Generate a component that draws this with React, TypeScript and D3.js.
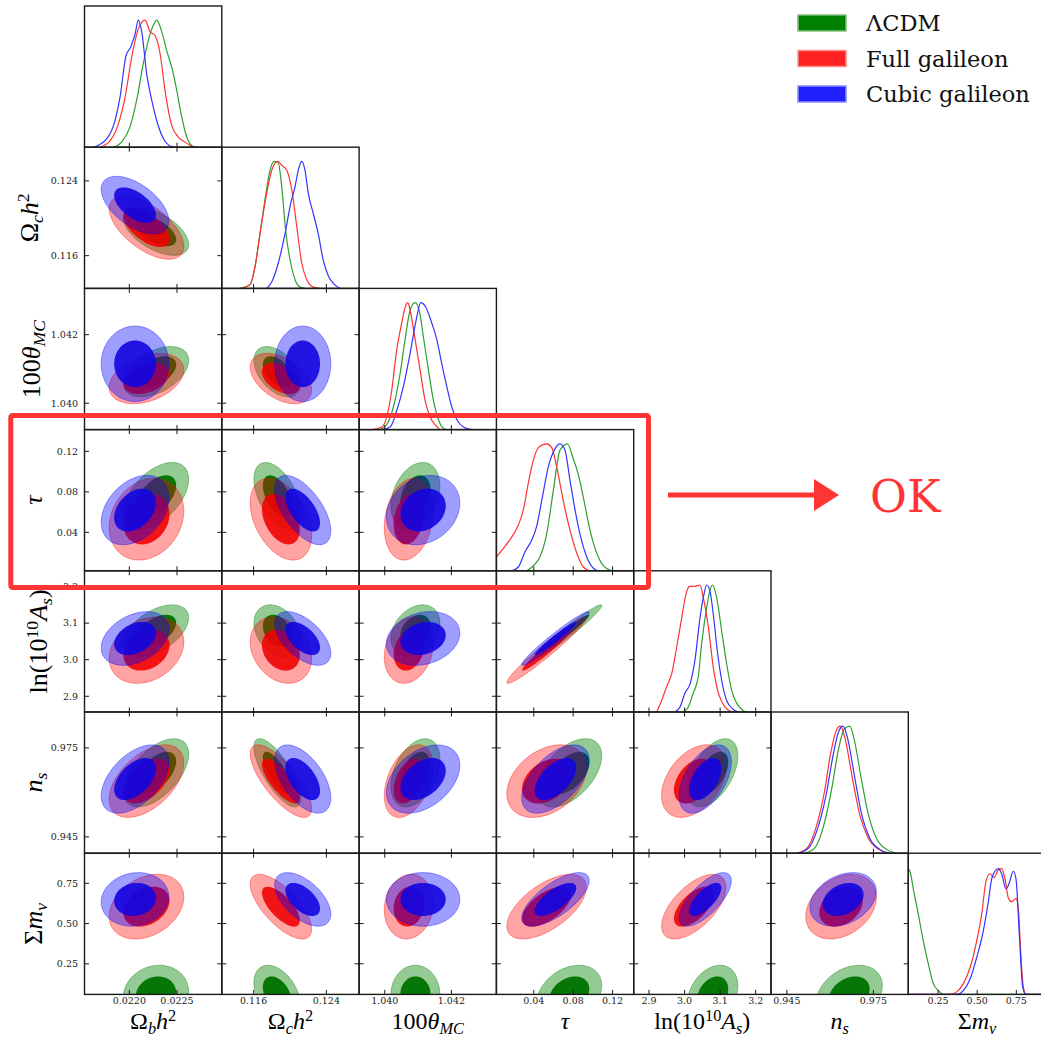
import React from "react";
import * as d3 from "d3";

// ---- parameters, axis ranges and ticks ----
const paramNames = ["ombh2", "omch2", "theta", "tau", "logA", "ns", "mnu"];
const paramRanges: [number, number][] = [
  [0.02153, 0.02297],
  [0.1125, 0.1276],
  [1.03923, 1.04335],
  [0.002, 0.1415],
  [2.857, 3.243],
  [0.9395, 0.9871],
  [0.06, 0.937],
];
const tickValues: number[][] = [
  [0.022, 0.0225],
  [0.116, 0.124],
  [1.04, 1.042],
  [0.04, 0.08, 0.12],
  [2.9, 3.0, 3.1, 3.2],
  [0.945, 0.975],
  [0.25, 0.5, 0.75],
];
const tickLabels: string[][] = [
  ["0.0220", "0.0225"],
  ["0.116", "0.124"],
  ["1.040", "1.042"],
  ["0.04", "0.08", "0.12"],
  ["2.9", "3.0", "3.1", "3.2"],
  ["0.945", "0.975"],
  ["0.25", "0.50", "0.75"],
];

type Seg = { t: string; it?: boolean; pos?: "sub" | "sup" };
const axisLabels: Seg[][] = [
  [{ t: "Ω" }, { t: "b", it: true, pos: "sub" }, { t: "h", it: true }, { t: "2", pos: "sup" }],
  [{ t: "Ω" }, { t: "c", it: true, pos: "sub" }, { t: "h", it: true }, { t: "2", pos: "sup" }],
  [{ t: "100" }, { t: "θ", it: true }, { t: "MC", it: true, pos: "sub" }],
  [{ t: "τ", it: true }],
  [{ t: "ln(10" }, { t: "10", pos: "sup" }, { t: "A", it: true }, { t: "s", it: true, pos: "sub" }, { t: ")" }],
  [{ t: "n", it: true }, { t: "s", it: true, pos: "sub" }],
  [{ t: "Σ" }, { t: "m", it: true }, { t: "ν", it: true, pos: "sub" }],
];

// ---- models ----
const modelNames = ["ΛCDM", "Full galileon", "Cubic galileon"];

// posterior means and standard deviations, in parameter order
const lcdmMean = [0.02228, 0.1186, 1.04092, 0.076, 3.079, 0.9666, 0.06];
const lcdmSd = [0.00014, 0.00105, 0.0003, 0.0135, 0.029, 0.0047, 0.074];
const fullMean = [0.02218, 0.119, 1.04072, 0.053, 3.026, 0.9638, 0.605];
const fullSd = [0.00016, 0.00138, 0.0003, 0.0165, 0.037, 0.005, 0.082];
const cubicMean = [0.02206, 0.1214, 1.04115, 0.062, 3.058, 0.9645, 0.65];
const cubicSd = [0.000145, 0.00126, 0.00045, 0.014, 0.03, 0.0047, 0.068];

// correlation coefficients for each (row, column) pair
const pairOrder: [number, number][] = [
  [1, 0], [2, 0], [2, 1], [3, 0], [3, 1], [3, 2], [4, 0], [4, 1], [4, 2], [4, 3],
  [5, 0], [5, 1], [5, 2], [5, 3], [5, 4], [6, 0], [6, 1], [6, 2], [6, 3], [6, 4], [6, 5],
];
const lcdmCorr = [-0.55, 0.45, -0.45, 0.5, -0.5, 0.3, 0.5, -0.3, 0.3, 0.97, 0.55, -0.75, 0.4, 0.5, 0.5, 0.1, -0.4, 0.0, 0.3, 0.3, 0.3];
const fullCorr = [-0.6, 0.35, -0.45, 0.2, -0.4, 0.2, 0.25, -0.25, 0.2, 0.97, 0.5, -0.75, 0.4, 0.35, 0.4, 0.3, -0.7, 0.1, 0.6, 0.6, 0.3];
const cubicCorr = [-0.55, 0.0, 0.0, 0.35, -0.6, 0.2, 0.35, -0.55, 0.2, 0.97, 0.5, -0.55, 0.4, 0.55, 0.5, 0.1, -0.55, 0.0, 0.7, 0.7, 0.3];

// ---- 1D marginal densities: [value, relative height] ----
type Pt = [number, number];
const ombh2Lcdm: Pt[] = [[0.021832, 0], [0.02192, 0.04], [0.022007, 0.16], [0.022077, 0.37], [0.022147, 0.66], [0.022199, 0.84], [0.022252, 0.96], [0.022287, 1.0], [0.02234, 0.91], [0.022392, 0.76], [0.022445, 0.63], [0.022497, 0.45], [0.022549, 0.24], [0.022602, 0.08], [0.022671, 0.005], [0.022707, 0]];
const ombh2Full: Pt[] = [[0.021693, 0], [0.021797, 0.05], [0.021884, 0.18], [0.021955, 0.39], [0.022025, 0.71], [0.022094, 0.93], [0.022165, 1.0], [0.022217, 0.91], [0.022269, 0.88], [0.022322, 0.74], [0.022374, 0.45], [0.022445, 0.17], [0.022514, 0.08], [0.022584, 0.04], [0.022671, 0]];
const ombh2Cubic: Pt[] = [[0.021622, 0], [0.021763, 0.066], [0.02185, 0.21], [0.021902, 0.39], [0.021965, 0.72], [0.022015, 0.79], [0.02206, 0.89], [0.022094, 1.0], [0.02213, 0.91], [0.022182, 0.58], [0.022235, 0.37], [0.022287, 0.21], [0.022356, 0.07], [0.022427, 0.01], [0.022479, 0]];

const omch2Lcdm: Pt[] = [[0.1145, 0], [0.1156, 0.03], [0.11615, 0.17], [0.1167, 0.43], [0.11725, 0.7], [0.1178, 0.93], [0.11824, 1.0], [0.11871, 0.99], [0.11909, 0.8], [0.11956, 0.43], [0.12008, 0.2], [0.12055, 0.07], [0.1211, 0.01], [0.12165, 0]];
const omch2Full: Pt[] = [[0.11469, 0], [0.1156, 0.03], [0.11615, 0.17], [0.1167, 0.43], [0.11744, 0.75], [0.11799, 0.93], [0.11865, 1.0], [0.11909, 0.97], [0.11964, 0.93], [0.12019, 0.78], [0.12074, 0.49], [0.12129, 0.2], [0.12184, 0.07], [0.12256, 0.01], [0.1233, 0]];
const omch2Cubic: Pt[] = [[0.11744, 0], [0.11799, 0.05], [0.11871, 0.2], [0.11945, 0.43], [0.12008, 0.67], [0.12055, 0.8], [0.12091, 0.93], [0.12129, 1.0], [0.12165, 0.93], [0.12201, 0.75], [0.12256, 0.59], [0.12311, 0.43], [0.12366, 0.22], [0.12421, 0.1], [0.12476, 0.04], [0.1255, 0]];

const thetaLcdm: Pt[] = [[1.03986, 0], [1.04006, 0.04], [1.04026, 0.18], [1.04046, 0.44], [1.04061, 0.71], [1.04076, 0.94], [1.04091, 1.0], [1.04104, 0.93], [1.04116, 0.73], [1.04131, 0.47], [1.04146, 0.23], [1.04161, 0.08], [1.04176, 0.01], [1.04186, 0]];
const thetaFull: Pt[] = [[1.03961, 0], [1.03991, 0.02], [1.04006, 0.1], [1.04021, 0.31], [1.04036, 0.63], [1.04051, 0.84], [1.04063, 0.98], [1.04069, 1.0], [1.04076, 0.94], [1.04091, 0.71], [1.04106, 0.47], [1.04121, 0.23], [1.04136, 0.1], [1.04151, 0.04], [1.04166, 0]];
const thetaCubic: Pt[] = [[1.03991, 0], [1.04016, 0.02], [1.04036, 0.15], [1.04056, 0.34], [1.04076, 0.6], [1.04094, 0.86], [1.04108, 1.0], [1.04124, 0.96], [1.04141, 0.84], [1.04156, 0.71], [1.04171, 0.52], [1.04186, 0.34], [1.04201, 0.18], [1.04216, 0.08], [1.04236, 0.02], [1.04261, 0]];

const tauLcdm: Pt[] = [[0.0328, 0], [0.0395, 0.04], [0.0463, 0.11], [0.0531, 0.29], [0.0598, 0.63], [0.0666, 0.95], [0.0741, 1.0], [0.0802, 0.88], [0.0852, 0.76], [0.0903, 0.58], [0.0971, 0.32], [0.1039, 0.14], [0.1106, 0.04], [0.1191, 0]];
const tauFull: Pt[] = [[0.002, 0.11], [0.0124, 0.21], [0.0243, 0.36], [0.0294, 0.48], [0.0344, 0.69], [0.0395, 0.87], [0.0446, 0.97], [0.0531, 1.0], [0.0582, 0.97], [0.0632, 0.82], [0.07, 0.55], [0.0768, 0.32], [0.0836, 0.14], [0.0903, 0.03], [0.0971, 0]];
const tauCubic: Pt[] = [[0.0175, 0], [0.0243, 0.03], [0.0311, 0.15], [0.0378, 0.24], [0.0429, 0.35], [0.048, 0.55], [0.0548, 0.82], [0.0615, 0.96], [0.0666, 1.0], [0.0717, 0.95], [0.0768, 0.71], [0.0819, 0.48], [0.0869, 0.29], [0.0937, 0.11], [0.1005, 0.02], [0.1056, 0]];

const logALcdm: Pt[] = [[2.9965, 0], [3.0106, 0.04], [3.0246, 0.15], [3.0387, 0.28], [3.0481, 0.54], [3.0621, 0.82], [3.0715, 0.96], [3.079, 1.0], [3.0902, 0.9], [3.1043, 0.64], [3.1183, 0.38], [3.1324, 0.17], [3.1465, 0.07], [3.1652, 0.01], [3.1746, 0]];
const logAFull: Pt[] = [[2.9216, 0], [2.9356, 0.09], [2.9497, 0.2], [2.9637, 0.3], [2.9778, 0.51], [2.9918, 0.74], [3.0059, 0.95], [3.0153, 0.99], [3.0293, 0.99], [3.0434, 1.0], [3.0527, 0.9], [3.0668, 0.67], [3.0808, 0.35], [3.0949, 0.15], [3.1136, 0.04], [3.1324, 0]];
const logACubic: Pt[] = [[2.9731, 0], [2.9872, 0.04], [3.0012, 0.15], [3.0153, 0.22], [3.0293, 0.41], [3.0434, 0.74], [3.0527, 0.9], [3.0621, 1.0], [3.0715, 0.95], [3.0808, 0.77], [3.0921, 0.48], [3.1043, 0.25], [3.1183, 0.09], [3.1371, 0.02], [3.1511, 0]];

const nsLcdm: Pt[] = [[0.9512, 0], [0.9546, 0.04], [0.9573, 0.18], [0.9605, 0.5], [0.9629, 0.82], [0.965, 0.98], [0.9668, 1.0], [0.9683, 0.9], [0.9707, 0.6], [0.9731, 0.32], [0.976, 0.12], [0.9795, 0.03], [0.9828, 0]];
const nsFull: Pt[] = [[0.9485, 0], [0.952, 0.04], [0.9548, 0.18], [0.958, 0.48], [0.9603, 0.8], [0.9622, 0.97], [0.9636, 1.0], [0.9652, 0.9], [0.9678, 0.58], [0.9703, 0.3], [0.9732, 0.12], [0.9768, 0.03], [0.98, 0]];
const nsCubic: Pt[] = [[0.949, 0], [0.9525, 0.04], [0.9553, 0.17], [0.9587, 0.47], [0.9611, 0.78], [0.963, 0.96], [0.9645, 1.0], [0.966, 0.91], [0.9685, 0.6], [0.9709, 0.31], [0.9737, 0.12], [0.9772, 0.03], [0.9805, 0]];

const mnuLcdm: Pt[] = [[0.06, 0.99], [0.0709, 0.97], [0.0921, 0.83], [0.1241, 0.63], [0.156, 0.42], [0.1879, 0.24], [0.2199, 0.085], [0.2518, 0.03], [0.2944, 0], [0.937, 0]];
const mnuFull: Pt[] = [[0.06, 0], [0.3263, 0], [0.3689, 0.02], [0.4115, 0.085], [0.4541, 0.21], [0.4967, 0.42], [0.5286, 0.63], [0.5563, 0.89], [0.5818, 0.95], [0.6074, 0.92], [0.635, 0.98], [0.6564, 0.99], [0.6776, 0.91], [0.6989, 0.76], [0.7202, 0.73], [0.7479, 0.755], [0.7628, 0.68], [0.7777, 0.34], [0.7947, 0.06], [0.8118, 0], [0.937, 0]];
const mnuCubic: Pt[] = [[0.06, 0], [0.3689, 0], [0.4115, 0.03], [0.4541, 0.12], [0.4967, 0.29], [0.5392, 0.5], [0.5712, 0.73], [0.5925, 0.91], [0.6138, 0.97], [0.635, 0.99], [0.6564, 0.95], [0.684, 0.83], [0.7053, 0.88], [0.7308, 0.97], [0.7479, 0.91], [0.7692, 0.47], [0.7905, 0.06], [0.8118, 0], [0.937, 0]];

const marginals: Pt[][][] = [
  [ombh2Lcdm, ombh2Full, ombh2Cubic],
  [omch2Lcdm, omch2Full, omch2Cubic],
  [thetaLcdm, thetaFull, thetaCubic],
  [tauLcdm, tauFull, tauCubic],
  [logALcdm, logAFull, logACubic],
  [nsLcdm, nsFull, nsCubic],
  [mnuLcdm, mnuFull, mnuCubic],
];

const means = [lcdmMean, fullMean, cubicMean];
const sds = [lcdmSd, fullSd, cubicSd];
const corrs = [lcdmCorr, fullCorr, cubicCorr];

// ---- styling ----
const W = 1041;
const H = 1040;
const LEFT = 84.5;
const TOP = 6;
const PW = 137.3;
const PH = 141.2;
const N = paramNames.length;

const baseColor = ["#008000", "#ff0000", "#0000ff"];
const outerOpacity = [0.42, 0.36, 0.38];
const innerColor = ["#007400", "#f00000", "#1206e0"];
const innerOpacity = [0.96, 0.88, 0.9];
const lineColor = ["#2f9f2f", "#ff3232", "#3434ff"];
const legendFill = ["#008000", "#ff2020", "#2020ff"];
const legendEdge = ["#7fbf7f", "#ff8c8c", "#8c8cff"];

const R95 = Math.sqrt(-2 * Math.log(0.05));
const R68 = Math.sqrt(-2 * Math.log(0.32));

const serif = "'DejaVu Serif', serif";
const mathFont = "'Liberation Serif', 'DejaVu Serif', serif";
const annot = "#ff3535";

function ellipse(mx: number, my: number, sx: number, sy: number, rho: number, r: number): Pt[] {
  const pts: Pt[] = [];
  const k = Math.sqrt(1 - rho * rho);
  const n = 96;
  for (let i = 0; i < n; i++) {
    const a = (2 * Math.PI * i) / n;
    const u = Math.cos(a);
    const v = Math.sin(a);
    pts.push([mx + r * sx * u, my + r * sy * (rho * u + k * v)]);
  }
  return pts;
}

function MathText(props: { segs: Seg[]; size: number; [k: string]: any }) {
  const { segs, size, ...rest } = props;
  let cur = 0;
  return (
    <text {...rest} fontSize={size} fontFamily={mathFont} fill="#000">
      {segs.map((s, i) => {
        const target = s.pos === "sub" ? size * 0.2 : s.pos === "sup" ? -size * 0.33 : 0;
        const dy = target - cur;
        cur = target;
        return (
          <tspan key={i} dy={dy} fontStyle={s.it ? "italic" : "normal"} fontSize={s.pos ? size * 0.68 : size}>
            {s.t}
          </tspan>
        );
      })}
    </text>
  );
}

export default function App() {
  const xs = paramRanges.map((r, i) => d3.scaleLinear().domain(r).range([LEFT + i * PW, LEFT + (i + 1) * PW]));
  const ys = paramRanges.map((r, j) => d3.scaleLinear().domain(r).range([TOP + (j + 1) * PH, TOP + j * PH]));

  const cells: { r: number; c: number }[] = [];
  for (let r = 0; r < N; r++) for (let c = 0; c <= r; c++) cells.push({ r, c });

  const tickLen = 4.5;

  return (
    <svg
      width={W}
      height={H}
      viewBox={`0 0 ${W} ${H}`}
      style={{ position: "absolute", left: 0, top: 0, background: "#fff" }}
    >
      <rect x={0} y={0} width={W} height={H} fill="#fff" />
      <defs>
        {cells.map(({ r, c }) => (
          <clipPath key={`cp${r}${c}`} id={`clip-${r}-${c}`}>
            <rect x={LEFT + c * PW} y={TOP + r * PH} width={PW} height={PH} />
          </clipPath>
        ))}
      </defs>

      {cells.map(({ r, c }) => {
        const y0 = TOP + r * PH;
        const xsc = xs[c];
        if (r === c) {
          const hs = d3.scaleLinear().domain([0, 1.112]).range([y0 + PH, y0]);
          const line = d3
            .line<Pt>()
            .x((d) => xsc(d[0]))
            .y((d) => hs(d[1]))
            .curve(d3.curveMonotoneX);
          return (
            <g key={`p${r}${c}`} clipPath={`url(#clip-${r}-${c})`}>
              {marginals[r].map((pts, m) => (
                <path key={m} d={line(pts) || ""} fill="none" stroke={lineColor[m]} strokeWidth={1.2} />
              ))}
            </g>
          );
        }
        const ysc = ys[r];
        const pi = pairOrder.findIndex(([a, b]) => a === r && b === c);
        const path = d3
          .line<Pt>()
          .x((d) => xsc(d[0]))
          .y((d) => ysc(d[1]))
          .curve(d3.curveLinearClosed);
        return (
          <g key={`p${r}${c}`} clipPath={`url(#clip-${r}-${c})`}>
            {[0, 1, 2].map((m) => {
              const mu = means[m];
              const sd = sds[m];
              const rho = corrs[m][pi];
              const outer = ellipse(mu[c], mu[r], sd[c], sd[r], rho, R95);
              const inner = ellipse(mu[c], mu[r], sd[c], sd[r], rho, R68);
              return (
                <g key={m}>
                  <path d={path(outer) || ""} fill={baseColor[m]} fillOpacity={outerOpacity[m]} stroke={baseColor[m]} strokeOpacity={0.55} strokeWidth={0.7} />
                  <path d={path(inner) || ""} fill={innerColor[m]} fillOpacity={innerOpacity[m]} stroke="none" />
                </g>
              );
            })}
          </g>
        );
      })}

      {/* frames and ticks */}
      {cells.map(({ r, c }) => {
        const x0 = LEFT + c * PW;
        const y0 = TOP + r * PH;
        const xt = tickValues[c].map((v) => xs[c](v));
        const yt = r === c ? [] : tickValues[r].map((v) => ys[r](v));
        return (
          <g key={`f${r}${c}`} stroke="#1a1a1a" strokeWidth={1}>
            {xt.map((x, i) => (
              <g key={`x${i}`}>
                <line x1={x} x2={x} y1={y0 + PH} y2={y0 + PH - tickLen} />
                {r !== c && <line x1={x} x2={x} y1={y0} y2={y0 + tickLen} />}
              </g>
            ))}
            {yt.map((y, i) => (
              <g key={`y${i}`}>
                <line x1={x0} x2={x0 + tickLen} y1={y} y2={y} />
                <line x1={x0 + PW} x2={x0 + PW - tickLen} y1={y} y2={y} />
              </g>
            ))}
            <rect x={x0} y={y0} width={PW} height={PH} fill="none" strokeWidth={1.4} />
          </g>
        );
      })}

      {/* tick labels */}
      {paramNames.map((_, c) =>
        tickValues[c].map((v, i) => (
          <text
            key={`xl${c}${i}`}
            x={xs[c](v)}
            y={TOP + N * PH + 9.5}
            textAnchor="middle"
            fontFamily={serif}
            fontSize={9.5}
            fill="#222"
          >
            {tickLabels[c][i]}
          </text>
        ))
      )}
      {paramNames.map((_, r) =>
        r === 0
          ? null
          : tickValues[r].map((v, i) => (
              <text
                key={`yl${r}${i}`}
                x={78}
                y={ys[r](v)}
                dy="0.35em"
                textAnchor="end"
                fontFamily={serif}
                fontSize={9.5}
                fill="#222"
              >
                {tickLabels[r][i]}
              </text>
            ))
      )}

      {/* axis labels */}
      {axisLabels.map((segs, c) => (
        <MathText key={`xa${c}`} segs={segs} size={24} x={LEFT + (c + 0.5) * PW} y={1029} textAnchor="middle" />
      ))}
      {axisLabels.map((segs, r) => {
        if (r === 0) return null;
        const bx = [0, 38, 40, 42, 47, 42, 42][r];
        const cy = TOP + (r + 0.5) * PH;
        return <MathText key={`ya${r}`} segs={segs} size={26} textAnchor="middle" transform={`translate(${bx},${cy}) rotate(-90)`} />;
      })}

      {/* legend */}
      {modelNames.map((name, m) => (
        <g key={`lg${m}`}>
          <rect x={798} y={15 + m * 35.5} width={48} height={16} fill={legendFill[m]} stroke={legendEdge[m]} strokeWidth={1.5} />
          <text x={866} y={31 + m * 35.5} fontFamily={serif} fontSize={22.5} fill="#111">
            {name}
          </text>
        </g>
      ))}

      {/* highlight annotation */}
      <rect x={10.8} y={415.5} width={637.7} height={172} rx={2} fill="none" stroke={annot} strokeWidth={5} />
      <line x1={668} x2={816} y1={495} y2={495} stroke={annot} strokeWidth={5} />
      <polygon points="814,479 839,495 814,511" fill={annot} />
      <text x={870} y={512} fontFamily={serif} fontSize={45} fill={annot}>
        OK
      </text>
    </svg>
  );
}
